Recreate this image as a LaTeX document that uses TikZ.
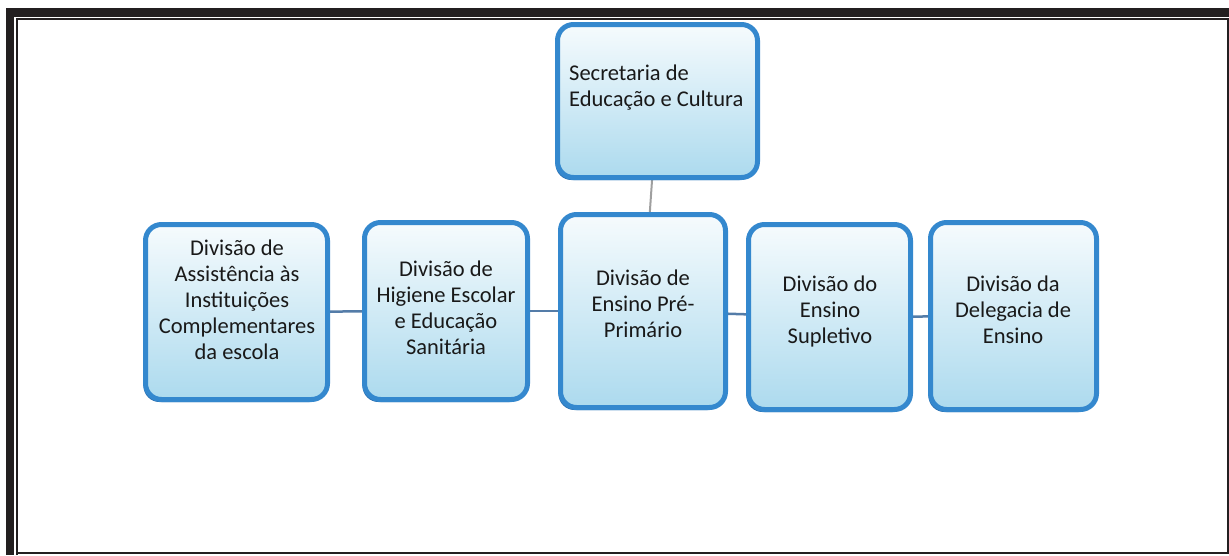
\documentclass[tikz,border=0pt]{standalone}
\usepackage{fontspec}
\setmainfont{Carlito}
\usetikzlibrary{backgrounds,shadows}
\definecolor{framedark}{RGB}{35,31,32}
\definecolor{boxedge}{RGB}{52,136,206}
\definecolor{boxshade}{RGB}{36,104,170}
\definecolor{boxtop}{RGB}{246,251,253}
\definecolor{boxbottom}{RGB}{172,218,238}
\definecolor{linkblue}{RGB}{84,124,168}

\begin{document}
\begin{tikzpicture}[x=1pt,y=-1pt]
    \tikzstyle{orgbox}=[rectangle,rounded corners=16pt,draw=boxedge,line width=5pt,
      top color=boxtop,bottom color=boxbottom,inner sep=0pt,
      drop shadow={shadow xshift=-2pt,shadow yshift=-2.5pt,fill=boxshade,opacity=1}]
    \tikzstyle{orgtext}=[align=center,inner sep=0pt,text=black!90,
      font=\fontsize{22.5}{26}\selectfont]
    \tikzstyle{link}=[draw=linkblue,line width=2.5pt]
    \useasboundingbox (0,0) rectangle (1229,555);
    % moldura
    \fill[framedark] (6,8) rectangle (1229,17);
    \fill[framedark] (6,8) rectangle (14,555);
    \draw[framedark,line width=2pt] (17,555) -- (17,19) -- (1229,19);
    \draw[framedark,line width=2pt] (1228,19) -- (1228,553) -- (17,553);
    % caixas
    \node[orgbox,minimum width=200pt,minimum height=153pt] (sec) at (657.5,101) {};
    \node[orgbox,minimum width=182pt,minimum height=175pt] (assist) at (236.5,312) {};
    \node[orgbox,minimum width=163pt,minimum height=177pt] (higiene) at (446,311) {};
    \node[orgbox,minimum width=165pt,minimum height=193pt] (preprim) at (643,311) {};
    \node[orgbox,minimum width=162pt,minimum height=185pt] (supletivo) at (829.5,317) {};
    \node[orgbox,minimum width=166pt,minimum height=187pt] (delegacia) at (1013.5,316) {};
    % textos
    \node[orgtext,align=left,anchor=west] (secT) at (569,88) {Secretaria de\\Educação e Cultura};
    \node[orgtext] (assistT) at (237,300) {Divisão de\\Assistência às\\Instituições\\Complementares\\da escola};
    \node[orgtext] (higieneT) at (446,308) {Divisão de\\Higiene Escolar\\e Educação\\Sanitária};
    \node[orgtext] (preprimT) at (643,304) {Divisão de\\Ensino Pré-\\Primário};
    \node[orgtext] (supletivoT) at (830,311) {Divisão do\\Ensino\\Supletivo};
    \node[orgtext] (delegaciaT) at (1013,310) {Divisão da\\Delegacia de\\Ensino};
    % ligacoes
    \begin{scope}[on background layer]
      \draw[link,draw=gray!75,line width=2pt] (sec) -- (preprim);
      \draw[link] (assist) -- (higiene);
      \draw[link] (higiene) -- (preprim);
      \draw[link] (preprim) -- (supletivo);
      \draw[link] (supletivo) -- (delegacia);
    \end{scope}
\end{tikzpicture}
\end{document}
